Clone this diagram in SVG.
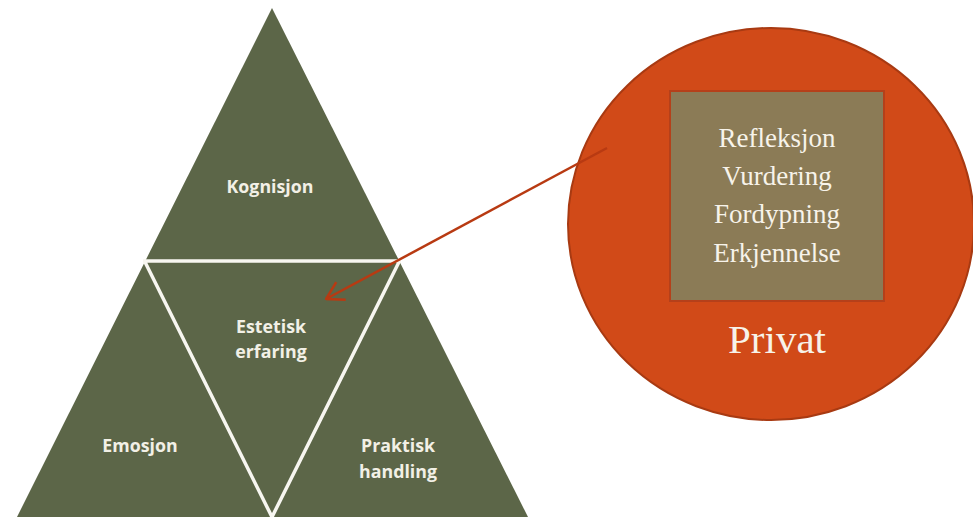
<svg xmlns="http://www.w3.org/2000/svg" width="973" height="517" viewBox="0 0 973 517">
<style>
.tri{fill:#5c6648}
.sep{stroke:#f7f6f0;stroke-width:3.5;fill:none}
.lbl{font-family:"Open Sans","DejaVu Sans",sans-serif;font-weight:bold;font-size:17.8px;fill:#f2f0e6;text-anchor:middle}
.srf{font-family:"Liberation Serif","DejaVu Serif",serif;fill:#f7f3ea;text-anchor:middle}
</style>
<defs>
<marker id="open" viewBox="0 0 20 24" refX="19" refY="12" markerWidth="20" markerHeight="24" markerUnits="userSpaceOnUse" orient="auto">
<path d="M2,2 L19,12 L2,22" fill="none" stroke="#b83a12" stroke-width="2.5"/>
</marker>
</defs>
<rect width="973" height="517" fill="#ffffff"/>
<g id="pyramid">
<polygon class="tri" points="272,8 17,517 528,517"/>
<path class="sep" d="M143,261 L401,261 M145,262 L272,517 L399,262"/>
</g>
<g id="kognisjon"><text class="lbl" x="270" y="193">Kognisjon</text></g>
<g id="estetisk"><text class="lbl" x="271" y="333">Estetisk</text><text class="lbl" x="271" y="358">erfaring</text></g>
<g id="emosjon"><text class="lbl" x="140" y="452">Emosjon</text></g>
<g id="praktisk"><text class="lbl" x="398" y="452">Praktisk</text><text class="lbl" x="398" y="478">handling</text></g>
<g id="privat">
<ellipse cx="771" cy="224" rx="203" ry="196" fill="#d14a18" stroke="#a83a12" stroke-width="2"/>
<rect x="670" y="91" width="214" height="210" fill="#8b7b56" stroke="#b5401a" stroke-width="2"/>
<text class="srf" x="777" y="147" font-size="27">Refleksjon</text>
<text class="srf" x="777" y="185" font-size="27">Vurdering</text>
<text class="srf" x="777" y="223" font-size="27">Fordypning</text>
<text class="srf" x="777" y="262" font-size="27">Erkjennelse</text>
<text class="srf" x="777" y="353" font-size="41">Privat</text>
</g>
<g id="connectors">
<line x1="607" y1="148" x2="326" y2="299" stroke="#b83a12" stroke-width="2.5" marker-end="url(#open)"/>
</g>
</svg>
